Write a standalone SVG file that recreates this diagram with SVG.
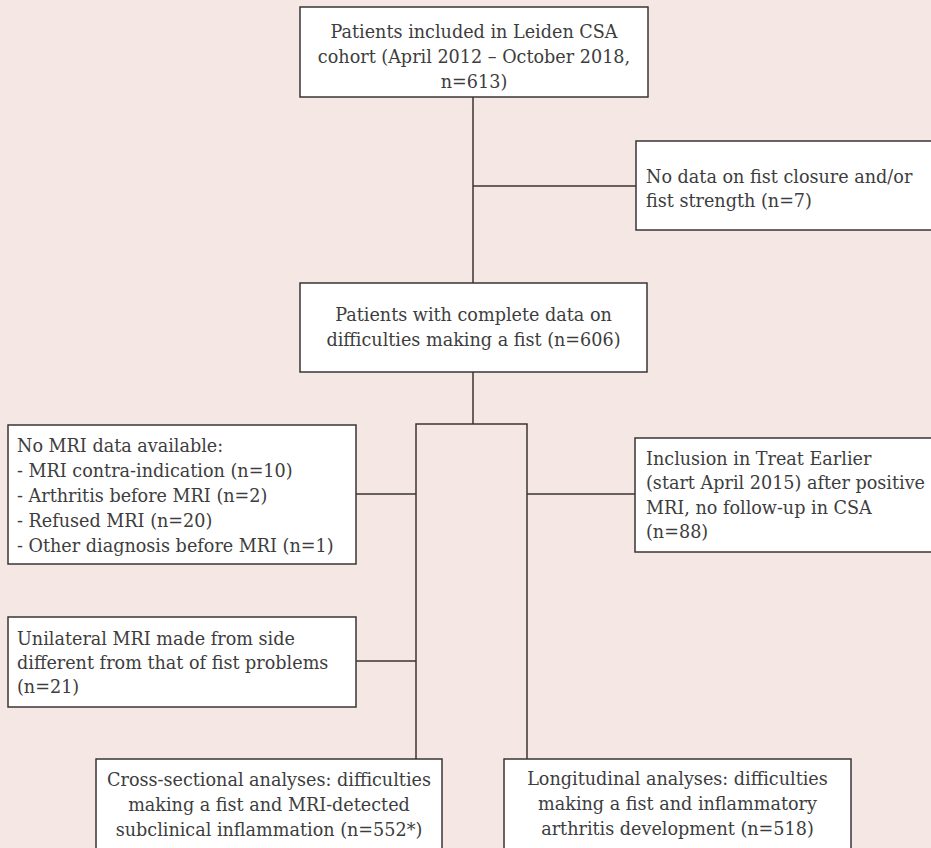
<svg xmlns="http://www.w3.org/2000/svg" width="931" height="848" viewBox="0 0 931 848">
<style>
.bg{fill:#f5e8e4}
.box{fill:#ffffff;stroke:#3a3535;stroke-width:1.5}
.t{font-family:"DejaVu Serif","Liberation Serif",serif;font-size:17.6px;fill:#3d3d3d}
.c{text-anchor:middle}
.ln{fill:none;stroke:#3a3535;stroke-width:1.5}
</style>
<rect class="bg" x="0" y="0" width="931" height="848"/>
<g id="connectors">
<path class="ln" d="M473 97V283"/>
<path class="ln" d="M473 186H636"/>
<path class="ln" d="M473 372V424"/>
<path class="ln" d="M416 759V424H527V759"/>
<path class="ln" d="M356 494H416"/>
<path class="ln" d="M527 494H635"/>
<path class="ln" d="M356 661H416"/>
</g>
<g id="n_cohort">
<rect class="box" x="300" y="7" width="348" height="90"/>
<text class="t c" x="474" y="38">Patients included in Leiden CSA</text>
<text class="t c" x="474" y="63">cohort (April 2012 – October 2018,</text>
<text class="t c" x="474" y="88">n=613)</text>
</g>
<g id="n_nodata">
<rect class="box" x="636" y="141" width="305" height="89"/>
<text class="t" x="646" y="183">No data on fist closure and/or</text>
<text class="t" x="646" y="207">fist strength (n=7)</text>
</g>
<g id="n_complete">
<rect class="box" x="300" y="283" width="347" height="89"/>
<text class="t c" x="473.5" y="321">Patients with complete data on</text>
<text class="t c" x="473.5" y="346">difficulties making a fist (n=606)</text>
</g>
<g id="n_nomri">
<rect class="box" x="8" y="425" width="348" height="139"/>
<text class="t" x="17" y="452">No MRI data available:</text>
<text class="t" x="17" y="477">- MRI contra-indication (n=10)</text>
<text class="t" x="17" y="502">- Arthritis before MRI (n=2)</text>
<text class="t" x="17" y="527">- Refused MRI (n=20)</text>
<text class="t" x="17" y="552">- Other diagnosis before MRI (n=1)</text>
</g>
<g id="n_treat">
<rect class="box" x="635" y="438" width="306" height="114"/>
<text class="t" x="646" y="465">Inclusion in Treat Earlier</text>
<text class="t" x="646" y="489">(start April 2015) after positive</text>
<text class="t" x="646" y="514">MRI, no follow-up in CSA</text>
<text class="t" x="646" y="538">(n=88)</text>
</g>
<g id="n_unilateral">
<rect class="box" x="8" y="617" width="348" height="90"/>
<text class="t" x="17" y="645">Unilateral MRI made from side</text>
<text class="t" x="17" y="669">different from that of fist problems</text>
<text class="t" x="17" y="693">(n=21)</text>
</g>
<g id="n_cross">
<rect class="box" x="96" y="759" width="346" height="100"/>
<text class="t c" x="269" y="786">Cross-sectional analyses: difficulties</text>
<text class="t c" x="269" y="811">making a fist and MRI-detected</text>
<text class="t c" x="269" y="836">subclinical inflammation (n=552*)</text>
</g>
<g id="n_long">
<rect class="box" x="504" y="759" width="347" height="100"/>
<text class="t c" x="677.5" y="785">Longitudinal analyses: difficulties</text>
<text class="t c" x="677.5" y="810">making a fist and inflammatory</text>
<text class="t c" x="677.5" y="835">arthritis development (n=518)</text>
</g>
</svg>
